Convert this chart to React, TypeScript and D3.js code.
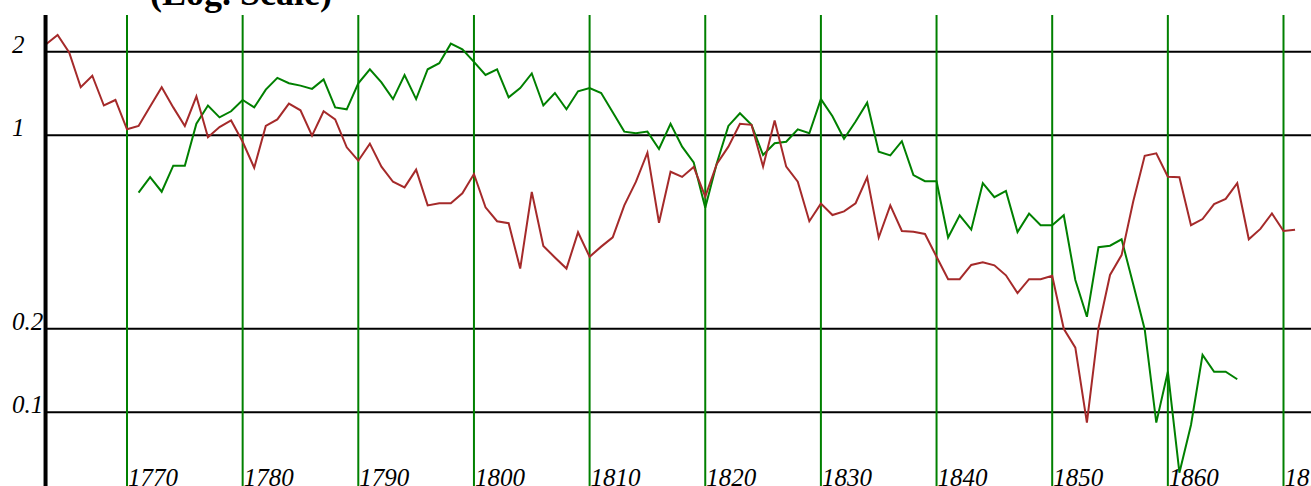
import React from 'react';
import * as d3 from 'd3';

const TITLE = '(Log. Scale)';

const RED_START = 1763;
const redValues = [
  2.13, 2.30, 1.99, 1.49, 1.64, 1.28, 1.34,
  1.05, 1.08, 1.27, 1.49, 1.26, 1.08, 1.38, 0.983, 1.07, 1.13,
  0.947, 0.763, 1.08, 1.14, 1.30, 1.23, 0.996, 1.22, 1.14, 0.904,
  0.809, 0.932, 0.770, 0.679, 0.648, 0.751, 0.558, 0.568, 0.568, 0.617,
  0.724, 0.549, 0.489, 0.481, 0.330, 0.624, 0.398, 0.362, 0.330, 0.446,
  0.364, 0.396, 0.428, 0.558, 0.678, 0.865, 0.483, 0.738, 0.707, 0.768,
  0.600, 0.787, 0.909, 1.10, 1.09, 0.770, 1.13, 0.770, 0.679, 0.489,
  0.566, 0.515, 0.531, 0.568, 0.705, 0.427, 0.558, 0.451, 0.448, 0.440,
  0.364, 0.302, 0.302, 0.340, 0.348, 0.339, 0.312, 0.269, 0.302, 0.302,
  0.311, 0.200, 0.171, 0.0917, 0.201, 0.313, 0.369, 0.575, 0.843, 0.860,
  0.708, 0.705, 0.473, 0.498, 0.564, 0.589, 0.671, 0.421, 0.459, 0.522,
  0.451, 0.456,
];

const GREEN_START = 1771;
const greenValues = [
  0.620, 0.705, 0.625, 0.776, 0.776, 1.10, 1.28, 1.16, 1.22,
  1.34, 1.26, 1.46, 1.61, 1.54, 1.51, 1.47, 1.59, 1.26, 1.24,
  1.54, 1.73, 1.55, 1.35, 1.65, 1.35, 1.73, 1.82, 2.14, 2.04,
  1.84, 1.65, 1.73, 1.37, 1.48, 1.67, 1.28, 1.42, 1.24, 1.44,
  1.48, 1.42, 1.21, 1.03, 1.016, 1.03, 0.892, 1.10, 0.909, 0.798,
  0.547, 0.792, 1.08, 1.20, 1.09, 0.848, 0.935, 0.947, 1.05, 1.016,
  1.35, 1.17, 0.971, 1.12, 1.31, 0.872, 0.845, 0.951, 0.718, 0.682,
  0.682, 0.427, 0.514, 0.456, 0.671, 0.597, 0.629, 0.447, 0.521, 0.473,
  0.473, 0.514, 0.300, 0.221, 0.394, 0.399, 0.421, 0.290, 0.199, 0.0917,
  0.140, 0.0605, 0.0899, 0.161, 0.140, 0.140, 0.1315,
];

const decadeTicks = [1770, 1780, 1790, 1800, 1810, 1820, 1830, 1840, 1850, 1860, 1870];
const valueTicks = [2, 1, 0.2, 0.1];
const valueTickLabels = ['2', '1', '0.2', '0.1'];

const W = 1311;
const H = 486;
const FONT = '"Liberation Serif", "Times New Roman", serif';

export default function App() {
  const x = d3.scaleLinear().domain([1770, 1870]).range([127, 1283.5]);
  const y = d3.scaleLog().domain([0.1, 2]).range([412.2, 51.8]);
  const axisX = x(RED_START) + 0.5;
  const plotTop = 15;

  const redPts: [number, number][] = redValues.map((v, i) => [RED_START + i, v]);
  const greenPts: [number, number][] = greenValues.map((v, i) => [GREEN_START + i, v]);
  const line = d3
    .line<[number, number]>()
    .x((d) => x(d[0]))
    .y((d) => y(d[1]));

  return (
    <svg
      width={W}
      height={H}
      style={{ position: 'absolute', left: 0, top: 0, display: 'block', background: '#fff' }}
    >
      <text x={150} y={5} fontFamily={FONT} fontWeight="bold" fontSize={36} fill="#000">
        {TITLE}
      </text>

      {valueTicks.map((t) => (
        <line key={'h' + t} x1={axisX} x2={W} y1={y(t)} y2={y(t)} stroke="#000" strokeWidth={2} />
      ))}

      {decadeTicks.map((d) => (
        <line key={'v' + d} x1={x(d)} x2={x(d)} y1={plotTop} y2={H} stroke="#008000" strokeWidth={2} />
      ))}

      <path d={line(greenPts) || ''} fill="none" stroke="#008000" strokeWidth={2} strokeLinejoin="miter" />
      <path d={line(redPts) || ''} fill="none" stroke="#a52a2a" strokeWidth={2} strokeLinejoin="miter" />

      <line x1={axisX - 1} x2={axisX - 1} y1={plotTop} y2={H} stroke="#000" strokeWidth={4} />

      {valueTicks.map((t, i) => (
        <text
          key={'yl' + t}
          x={12}
          y={y(t) + 1}
          fontFamily={FONT}
          fontStyle="italic"
          fontSize={25}
          fill="#000"
        >
          {valueTickLabels[i]}
        </text>
      ))}

      {decadeTicks.map((d) => (
        <text
          key={'xl' + d}
          x={x(d) + 1}
          y={486}
          fontFamily={FONT}
          fontStyle="italic"
          fontSize={25}
          fill="#000"
        >
          {d}
        </text>
      ))}
    </svg>
  );
}
